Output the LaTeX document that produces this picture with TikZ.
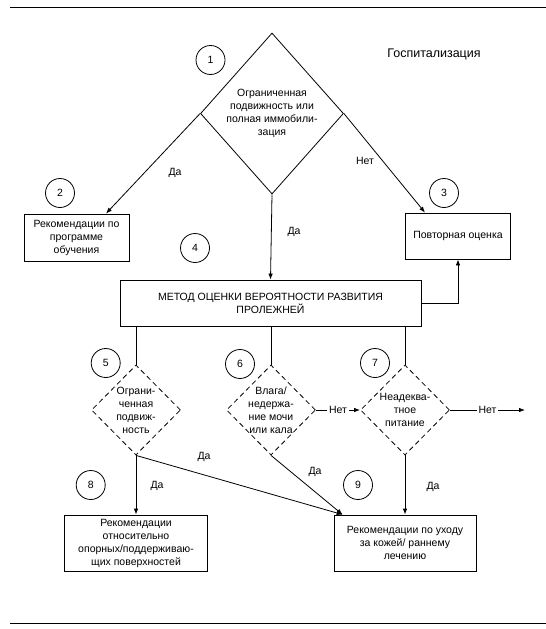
\documentclass[tikz,border=0pt]{standalone}
\usepackage{fontspec}
\setmainfont{Liberation Sans}
\usetikzlibrary{shapes.geometric,arrows.meta,calc}
\begin{document}
\begin{tikzpicture}[x=1pt,y=-1pt,
  every node/.style={font=\fontsize{10.5}{13}\selectfont, inner sep=0pt},
  box/.style={draw, line width=0.8pt, rectangle},
  dia/.style={draw, line width=0.8pt, diamond, inner sep=0pt},
  ddia/.style={dia, dash pattern=on 5pt off 3.5pt, minimum width=89pt, minimum height=90pt},
  num/.style={draw, circle, line width=0.8pt, minimum size=29pt},
  txt/.style={align=center},
  conn/.style={line width=0.8pt},
  arr/.style={conn, -{Latex[length=6pt,width=4.5pt]}},
  lbl/.style={fill=white, inner xsep=2pt, inner ysep=1pt}
]
\useasboundingbox (0,0) rectangle (546,629);
\fill[white] (0,0) rectangle (546,629);
\draw[conn] (10,7) -- (546,7);
\draw[conn] (10,623) -- (546,623);

% title
\node[font=\fontsize{12.5}{15}\selectfont] (title) at (434,54) {Госпитализация};

% main diamond
\node[dia, minimum width=143pt, minimum height=161pt] (d1) at (272,113.5) {};
\node[txt] (t1) at (272,113.5) {Ограниченная\\подвижность или\\полная иммобили-\\зация};

% boxes
\node[box, txt, minimum width=105pt, minimum height=47pt] (b2) at (76.5,237.5) {Рекомендации по\\программе\\обучения};
\node[box, txt, minimum width=105.5pt, minimum height=46pt] (b3) at (458,236) {Повторная оценка};
\node[box, txt, minimum width=301pt, minimum height=46pt] (b4) at (270.5,303) {МЕТОД ОЦЕНКИ ВЕРОЯТНОСТИ РАЗВИТИЯ\\ПРОЛЕЖНЕЙ};
\node[box, txt, minimum width=143pt, minimum height=56pt] (b8) at (136,543) {Рекомендации\\относительно\\опорных/поддерживаю-\\щих поверхностей};
\node[box, txt, minimum width=142pt, minimum height=56pt] (b9) at (405,543) {Рекомендации по уходу\\за кожей/ раннему\\лечению};

% dashed diamonds
\node[ddia] (d5) at (136,410) {};
\node[txt] (t5) at (136,410) {Ограни-\\ченная\\подвиж-\\ность};
\node[ddia] (d6) at (271,410) {};
\node[txt] (t6) at (271,410) {Влага/\\недержа-\\ние мочи\\или кала};
\node[ddia] (d7) at (405,410) {};
\node[txt] (t7) at (405,410) {Неадеква-\\тное\\питание};

% numbered circles
\node[num] (c1) at (210.5,60) {1};
\node[num] (c2) at (60,193) {2};
\node[num] (c3) at (444,193) {3};
\node[num] (c4) at (195,248) {4};
\node[num] (c5) at (105.7,363) {5};
\node[num] (c6) at (240,364) {6};
\node[num] (c7) at (375,363) {7};
\node[num] (c8) at (90.7,485) {8};
\node[num] (c9) at (358,485) {9};

% connectors
\draw[arr] (d1.west) -- ([xshift=29.5pt]b2.north);
\draw[arr] (d1.east) -- ([xshift=-33pt]b3.north);
\draw[arr] (d1.south) -- (b4.north);
\draw[arr] (b4.east) -| (b3.south);
\draw[conn] (b4.south -| d5.north) -- (d5.north);
\draw[conn] (b4.south -| d6.north) -- (d6.north);
\draw[conn] (b4.south -| d7.north) -- (d7.north);
\draw[arr] (d6.east) -- node[lbl] (n1) {Нет} (d7.west);
\coordinate (end) at (525,410);
\draw[arr] (d7.east) -- node[lbl] (n2) {Нет} (end);
\draw[arr] (d5.south) -- (b8.north);
\draw[arr] (d5.south) -- ([xshift=9pt]b9.north west);
\draw[arr] (d6.south) -- ([xshift=9pt]b9.north west);
\draw[arr] (d7.south) -- (b9.north);

% labels
\node (l1) at (175,173) {Да};
\node (l2) at (365,161) {Нет};
\node (l3) at (294,232) {Да};
\node (l4) at (204,457) {Да};
\node (l5) at (157,486) {Да};
\node (l6) at (315,472) {Да};
\node (l7) at (433,487) {Да};
\end{tikzpicture}
\end{document}
